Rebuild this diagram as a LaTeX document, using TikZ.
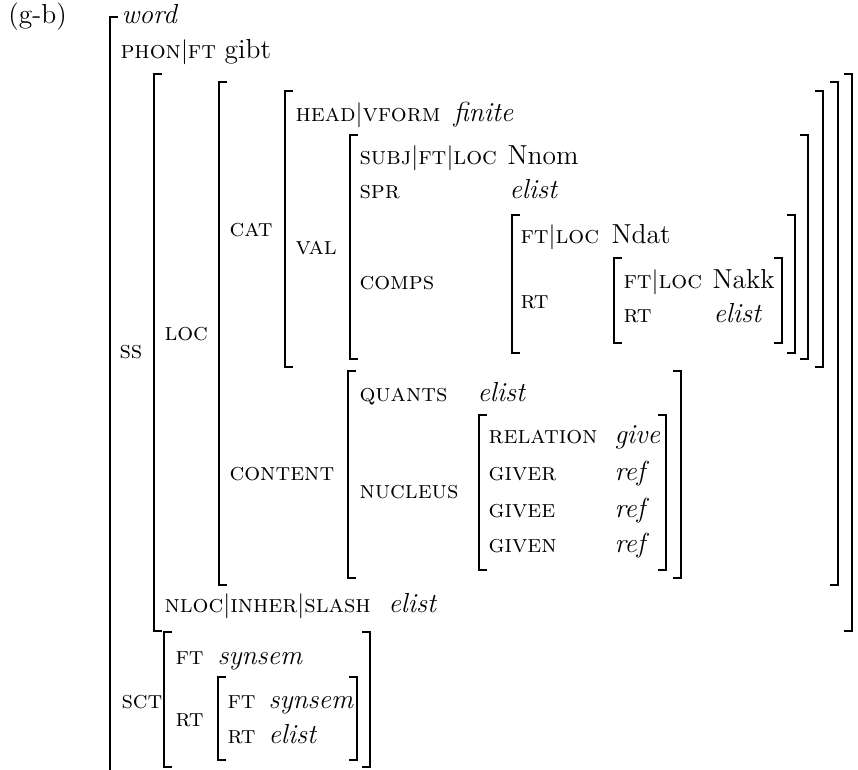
\documentclass[tikz,border=0pt]{standalone}
\usepackage{tikz}
\usetikzlibrary{calc}
\tikzset{
    feat/.style = {anchor=base west, inner sep=0pt, font=\scshape},
    atom/.style = {anchor=base west, inner sep=0pt, font=\fontsize{11}{13}\selectfont\itshape},
    word/.style = {anchor=base west, inner sep=0pt, font=\fontsize{11}{13}\selectfont},
    brk/.style = {draw, line width=0.75pt}
}
\newcommand{\avmopen}[3]{\draw[brk] (#1,#2) ++(8,0) -- ++(-8,0) -- (#1,#3) -- ++(8,0);}
\newcommand{\avmclose}[3]{\draw[brk] (#1,#2) ++(-8,0) -- ++(8,0) -- (#1,#3) -- ++(-8,0);}

\begin{document}
\begin{tikzpicture}[x=0.4pt, y=-0.4pt]
            \useasboundingbox (0,0) rectangle (858,770);
            \node[word] (ex) at (8,24) {(g-b)};
            \node[atom] (type) at (121,24) {word};
            \node[feat] (phon) at (120,59) {phon$|$ft};
            \node[word] (gibt) at ([xshift=3pt]phon.base east) {gibt};
            \node[feat] (ss) at (119,359) {ss};
            \node[feat] (loc) at (164,341) {loc};
            \node[feat] (cat) at (229,237) {cat};
            \node[feat] (head) at (295,122) {head$|$vform};
            \node[atom] (finite) at (453,122) {finite};
            \node[feat] (val) at (295,255) {val};
            \node[feat] (subj) at (359,165) {subj$|$ft$|$loc};
            \node[word] (nnom) at (507,165) {Nnom};
            \node[feat] (spr) at (359,199) {spr};
            \node[atom] (sprval) at (509,199) {elist};
            \node[feat] (comps) at (359,290) {comps};
            \node[feat] (ftA) at (520,244) {ft$|$loc};
            \node[word] (ndat) at (611,244) {Ndat};
            \node[feat] (rtA) at (520,309) {rt};
            \node[feat] (ftB) at (623,289) {ft$|$loc};
            \node[word] (nakk) at (712,289) {Nakk};
            \node[feat] (rtB) at (623,323) {rt};
            \node[atom] (rtBval) at (713,323) {elist};
            \node[feat] (content) at (229,481) {content};
            \node[feat] (quants) at (359,402) {quants};
            \node[atom] (quantsval) at (477,402) {elist};
            \node[feat] (nucleus) at (359,499) {nucleus};
            \node[feat] (relation) at (488,444) {relation};
            \node[atom] (give) at (614,444) {give};
            \node[feat] (giver) at (488,481) {giver};
            \node[atom] (giverval) at (614,481) {ref};
            \node[feat] (givee) at (488,518) {givee};
            \node[atom] (giveeval) at (614,518) {ref};
            \node[feat] (given) at (488,553) {given};
            \node[atom] (givenval) at (614,553) {ref};
            \node[feat] (nloc) at (164,613) {nloc$|$inher$|$slash};
            \node[atom] (slashval) at (388,613) {elist};
            \node[feat] (sct) at (121,708) {sct};
            \node[feat] (ftC) at (175,664) {ft};
            \node[atom] (synsemC) at (217,664) {synsem};
            \node[feat] (rtC) at (175,726) {rt};
            \node[feat] (ftD) at (227,708) {ft};
            \node[atom] (synsemD) at (268,708) {synsem};
            \node[feat] (rtD) at (227,743) {rt};
            \node[atom] (rtDval) at (268,743) {elist};
            \avmopen{110}{17}{790}
            \avmopen{154}{74}{631} \avmclose{852}{74}{631}
            \avmopen{219}{82}{585} \avmclose{838}{82}{585}
            \avmopen{285}{91}{367} \avmclose{823}{91}{367}
            \avmopen{350}{135}{359} \avmclose{808}{135}{359}
            \avmopen{512}{215}{353} \avmclose{795}{215}{353}
            \avmopen{614}{258}{343} \avmclose{782}{258}{343}
            \avmopen{348}{371}{578} \avmclose{681}{371}{578}
            \avmopen{479}{415}{570} \avmclose{666}{415}{570}
            \avmopen{164}{632}{767} \avmclose{370}{632}{767}
            \avmopen{218}{677}{760} \avmclose{357}{677}{760}
        \end{tikzpicture}
\end{document}
